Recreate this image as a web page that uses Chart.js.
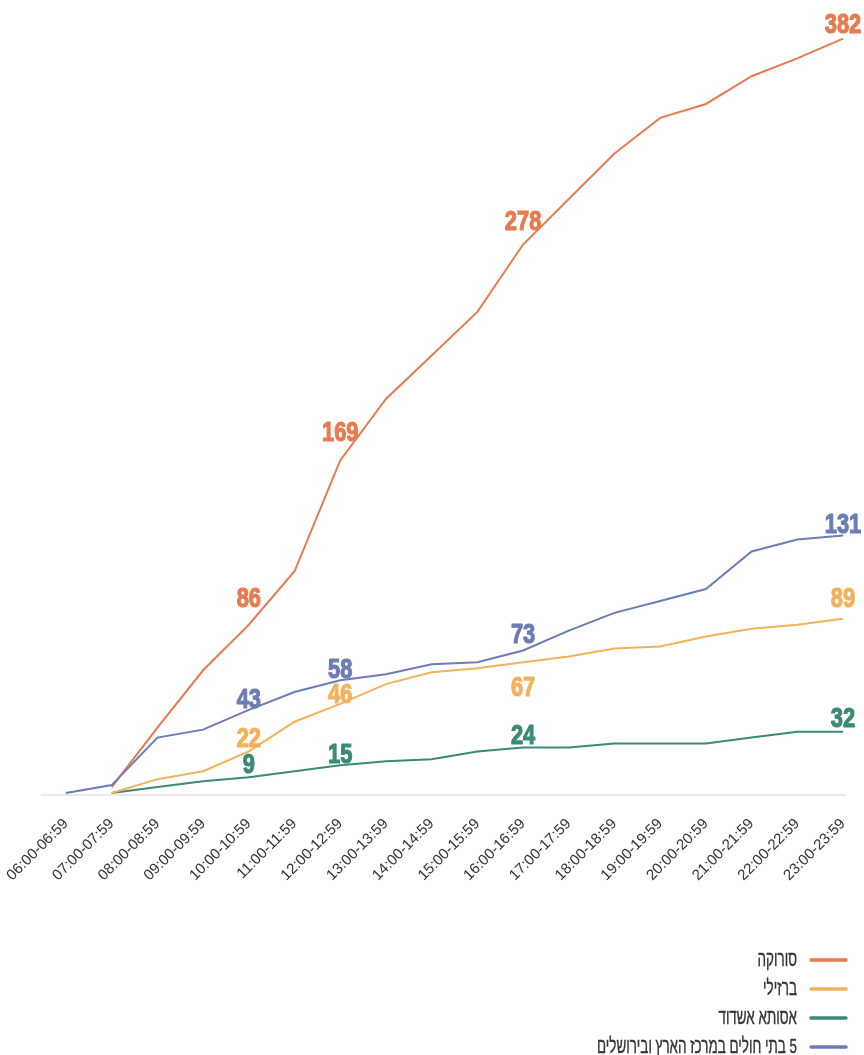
<!DOCTYPE html>
<html lang="he">
<head>
<meta charset="utf-8">
<title>פצועים שהגיעו לבתי החולים לפי שעה</title>
<script src="https://cdn.jsdelivr.net/npm/chart.js@4/dist/chart.umd.min.js"></script>
<style>
  html, body { margin: 0; padding: 0; background: #ffffff; }
  canvas { display: block; }
</style>
</head>
<body>
<canvas id="chart" width="864" height="1055"></canvas>
<script>
// Hourly time slots (x axis)
const hours = [
  '06:00-06:59', '07:00-07:59', '08:00-08:59', '09:00-09:59', '10:00-10:59',
  '11:00-11:59', '12:00-12:59', '13:00-13:59', '14:00-14:59', '15:00-15:59',
  '16:00-16:59', '17:00-17:59', '18:00-18:59', '19:00-19:59', '20:00-20:59',
  '21:00-21:59', '22:00-22:59', '23:00-23:59'
];

// Series names, in legend order
const seriesNames = ['סורוקה', 'ברזילי', 'אסותא אשדוד', '5 בתי חולים במרכז הארץ ובירושלים'];

// Cumulative number of casualties per hospital group
const soroka   = [null, 4, 34, 63, 86, 113, 169, 200, 222, 244, 278, 301, 324, 342, 349, 363, 372, 382];
const barzilai = [null, 1, 8, 12, 22, 37, 46, 56, 62, 64, 67, 70, 74, 75, 80, 84, 86, 89];
const assuta   = [null, 1, 4, 7, 9, 12, 15, 17, 18, 22, 24, 24, 26, 26, 26, 29, 32, 32];
const centerAndJerusalem = [1, 5, 29, 33, 43, 52, 58, 61, 66, 67, 73, 83, 92, 98, 104, 123, 129, 131];

// Time slots whose value is printed on the line
const labelledSlots = [4, 6, 10, 17];

const SANS = '"Liberation Sans", Arial, "DejaVu Sans", sans-serif';

const palette = ['#E87A50', '#F3B25A', '#3A8A76', '#6C7CB4'];
// vertical distance of each printed value from its point (negative = below the line)
const labelGaps = [
  [18, 19, 15, 6],
  [4, 1, -34, 12],
  [4, 2, 3, 5],
  [2, 2, 7, 3]
];

const seriesData = [soroka, barzilai, assuta, centerAndJerusalem];

const datasets = seriesData.map((data, i) => ({
  label: seriesNames[i],
  data: data,
  borderColor: palette[i],
  backgroundColor: palette[i],
  borderWidth: 2,
  pointRadius: 0,
  pointHoverRadius: 0,
  tension: 0,
  fill: false,
  order: i === 3 ? -1 : i
}));

// text squeezed horizontally to get a condensed face
function condensedText(ctx, text, x, y, squeeze, outline) {
  ctx.save();
  ctx.translate(x, y);
  ctx.scale(squeeze, 1);
  if (outline) {
    ctx.lineWidth = outline;
    ctx.lineJoin = 'round';
    ctx.strokeStyle = ctx.fillStyle;
    ctx.strokeText(text, 0, 0);
  }
  ctx.fillText(text, 0, 0);
  ctx.restore();
}

// Baseline under the plot, slightly wider than the plot area
const baselinePlugin = {
  id: 'baseline',
  beforeDatasetsDraw(chart) {
    const { ctx, chartArea } = chart;
    ctx.save();
    ctx.strokeStyle = '#e2e2e2';
    ctx.lineWidth = 1.5;
    ctx.beginPath();
    ctx.moveTo(chartArea.left - 25, chartArea.bottom);
    ctx.lineTo(chartArea.right + 3, chartArea.bottom);
    ctx.stroke();
    ctx.restore();
  }
};

// Printed values next to selected points
const valueLabelPlugin = {
  id: 'valueLabels',
  afterDatasetsDraw(chart) {
    const { ctx } = chart;
    ctx.save();
    ctx.font = 'bold 28px ' + SANS;
    ctx.textAlign = 'center';
    ctx.textBaseline = 'alphabetic';
    chart.data.datasets.forEach((ds, di) => {
      const meta = chart.getDatasetMeta(di);
      labelledSlots.forEach((slot, k) => {
        const pt = meta.data[slot];
        const value = ds.data[slot];
        if (!pt || value == null) return;
        ctx.fillStyle = ds.borderColor;
        condensedText(ctx, String(value), pt.x, pt.y - labelGaps[di][k], 0.78, 1.2);
      });
    });
    ctx.restore();
  }
};

// Legend stacked at the bottom right, line sample to the right of each name
const stackedLegendPlugin = {
  id: 'stackedLegend',
  afterDraw(chart) {
    const { ctx } = chart;
    const lineEnd = chart.width - 18;
    const lineStart = lineEnd - 35;
    const textRight = lineStart - 14;
    const firstRow = chart.height - 95;
    const rowStep = 29;
    ctx.save();
    ctx.font = '21px ' + SANS;
    ctx.direction = 'rtl';
    ctx.textAlign = 'right';
    ctx.textBaseline = 'middle';
    chart.data.datasets.forEach((ds, i) => {
      const y = firstRow + i * rowStep;
      ctx.fillStyle = '#333333';
      condensedText(ctx, ds.label, textRight, y, 0.64, 0.4);
      ctx.strokeStyle = ds.borderColor;
      ctx.lineWidth = 3.5;
      ctx.lineCap = 'round';
      ctx.beginPath();
      ctx.moveTo(lineStart, y);
      ctx.lineTo(lineEnd, y);
      ctx.stroke();
    });
    ctx.restore();
  }
};

new Chart(document.getElementById('chart'), {
  type: 'line',
  data: { labels: hours, datasets: datasets },
  options: {
    responsive: false,
    animation: false,
    layout: { padding: { top: 3, left: 66, right: 21, bottom: 0 } },
    plugins: {
      legend: { display: false },
      tooltip: { enabled: false }
    },
    scales: {
      x: {
        offset: false,
        grid: { display: false },
        border: { display: false },
        ticks: {
          autoSkip: false,
          minRotation: 45,
          maxRotation: 45,
          padding: 12,
          color: '#333333',
          font: { family: SANS, size: 15 }
        },
        afterFit(scale) {
          scale.height = 260;
          scale.paddingLeft = 0;
          scale.paddingRight = 0;
        }
      },
      y: {
        display: false,
        min: 0,
        max: 400
      }
    }
  },
  plugins: [baselinePlugin, valueLabelPlugin, stackedLegendPlugin]
});
</script>
</body>
</html>
